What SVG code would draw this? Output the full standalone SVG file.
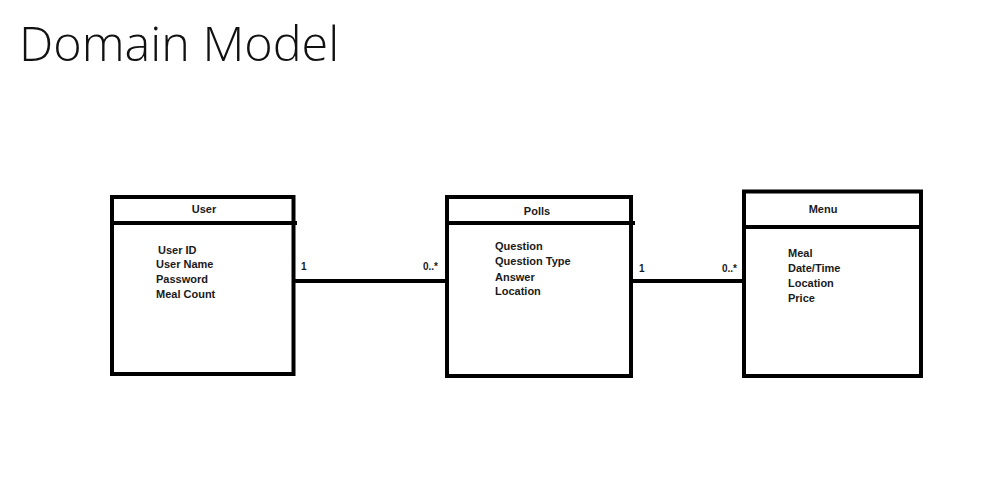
<svg xmlns="http://www.w3.org/2000/svg" width="1005" height="501" viewBox="0 0 1005 501">
<style>
.box{fill:#fff;stroke:#000;stroke-width:4}
.ln{stroke:#000;stroke-width:4;fill:none}
.h{font-family:"Liberation Sans",Arial,sans-serif;font-weight:bold;font-size:11px;fill:#1a1a1a;text-anchor:middle}
.a{font-family:"Liberation Sans",Arial,sans-serif;font-weight:bold;font-size:11px;fill:#1a1a1a}
.m{font-family:"Liberation Sans",Arial,sans-serif;font-weight:bold;font-size:10px;fill:#1a1a1a}
.t{font-family:"Open Sans","Liberation Sans",sans-serif;font-weight:300;font-size:48.5px;fill:#111}
</style>
<rect width="1005" height="501" fill="#fff"/>
<text class="t" x="19" y="61">Domain Model</text>
<g id="connectors">
<line class="ln" x1="295" y1="281" x2="447" y2="281"/>
<line class="ln" x1="633" y1="281" x2="744" y2="281"/>
<text class="m" x="301" y="270">1</text>
<text class="m" x="423" y="270">0..*</text>
<text class="m" x="639" y="272">1</text>
<text class="m" x="722" y="272">0..*</text>
</g>
<g id="user">
<rect class="box" x="112" y="197" width="181.5" height="177"/>
<line class="ln" x1="112" y1="223" x2="297" y2="223"/>
<text class="h" x="204" y="213">User</text>
<text class="a" x="158" y="254">User ID</text>
<text class="a" x="156" y="268">User Name</text>
<text class="a" x="156" y="283">Password</text>
<text class="a" x="156" y="298">Meal Count</text>
</g>
<g id="polls">
<rect class="box" x="447" y="197" width="184" height="179"/>
<line class="ln" x1="447" y1="223" x2="635" y2="223"/>
<text class="h" x="537" y="215">Polls</text>
<text class="a" x="495" y="250">Question</text>
<text class="a" x="495" y="265">Question Type</text>
<text class="a" x="495" y="281">Answer</text>
<text class="a" x="495" y="295">Location</text>
</g>
<g id="menu">
<rect class="box" x="744" y="191.5" width="177" height="184.5"/>
<line class="ln" x1="744" y1="227" x2="923" y2="227"/>
<text class="h" x="823" y="213">Menu</text>
<text class="a" x="788" y="257">Meal</text>
<text class="a" x="788" y="272">Date/Time</text>
<text class="a" x="788" y="287">Location</text>
<text class="a" x="788" y="302">Price</text>
</g>
</svg>
